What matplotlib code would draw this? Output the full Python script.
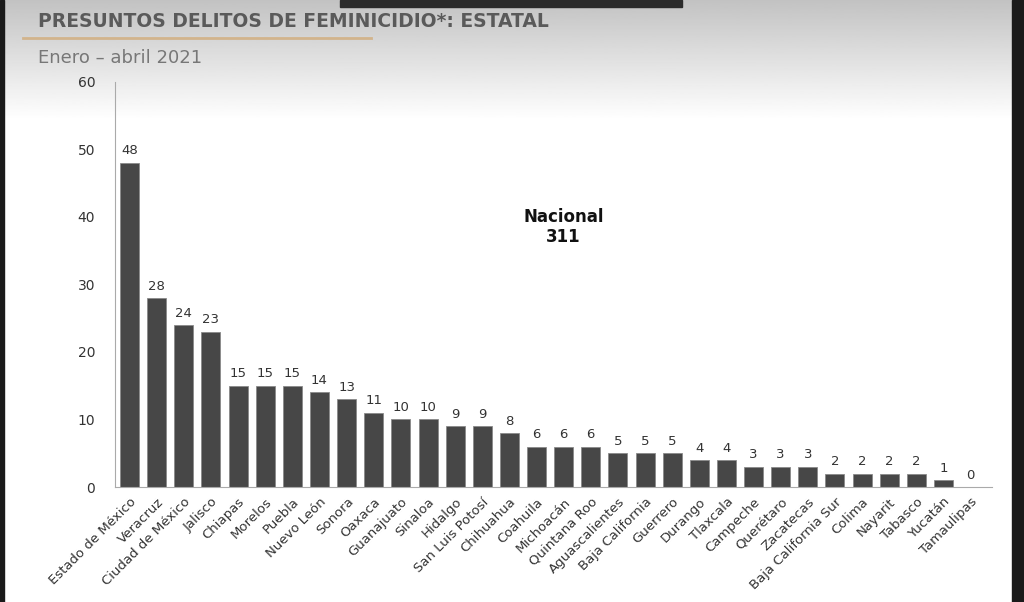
import matplotlib.pyplot as plt
import numpy as np
from matplotlib.patches import Rectangle

estados = ['Estado de México', 'Veracruz', 'Ciudad de México', 'Jalisco', 'Chiapas', 'Morelos',
           'Puebla', 'Nuevo León', 'Sonora', 'Oaxaca', 'Guanajuato', 'Sinaloa', 'Hidalgo',
           'San Luis Potosí', 'Chihuahua', 'Coahuila', 'Michoacán', 'Quintana Roo',
           'Aguascalientes', 'Baja California', 'Guerrero', 'Durango', 'Tlaxcala', 'Campeche',
           'Querétaro', 'Zacatecas', 'Baja California Sur', 'Colima', 'Nayarit', 'Tabasco',
           'Yucatán', 'Tamaulipas']
delitos = [48, 28, 24, 23, 15, 15, 15, 14, 13, 11, 10, 10, 9, 9, 8, 6, 6, 6, 5, 5, 5,
           4, 4, 3, 3, 3, 2, 2, 2, 2, 1, 0]
yticks = [0, 10, 20, 30, 40, 50, 60]

fig = plt.figure(figsize=(10.24, 6.02), dpi=100)

# screenshot background: soft grey gradient at the top, dark frame bits
grad = np.linspace(1.0, 0.76, 100).reshape(-1, 1)
bg = fig.add_axes([0, 0.80, 1, 0.20], zorder=-5)
bg.imshow(grad, cmap='gray', vmin=0, vmax=1, aspect='auto', extent=[0, 1, 0, 1], origin='lower')
bg.axis('off')
fig.patches.append(Rectangle((0.988, 0), 0.012, 1, transform=fig.transFigure, color='#1a1a1a', zorder=10))
fig.patches.append(Rectangle((0, 0), 0.004, 1, transform=fig.transFigure, color='#1a1a1a', zorder=10))
fig.patches.append(Rectangle((0.332, 0.988), 0.334, 0.012, transform=fig.transFigure, color='#2b2b2b', zorder=10))

fig.text(0.037, 0.965, 'PRESUNTOS DELITOS DE FEMINICIDIO*: ESTATAL', fontsize=13.5, fontweight='bold',
         color='#5a5a5a', va='center')
fig.lines.append(plt.Line2D([0.022, 0.362], [0.937, 0.937], transform=fig.transFigure, color='#d2b48c', lw=2))
fig.text(0.037, 0.903, 'Enero – abril 2021', fontsize=13, color='#777777', va='center')

ax = fig.add_axes([0.112, 0.191, 0.857, 0.673])
ax.set_facecolor('none')
x = np.arange(len(estados))
ax.bar(x, delitos, width=0.7, color='#474747', edgecolor='#8a8a8a', linewidth=0.6)
for xi, v in zip(x, delitos):
    ax.text(xi, v + 0.8, str(v), ha='center', va='bottom', fontsize=9.5, color='#333333')
ax.set_xlim(-0.55, len(estados) - 0.2)
ax.set_ylim(0, 60)
ax.set_yticks(yticks)
ax.tick_params(axis='y', length=0, labelsize=10, colors='#333333', pad=14)
ax.set_xticks(x)
ax.set_xticklabels(estados, rotation=45, ha='right', rotation_mode='anchor', fontsize=9.5, color='#333333')
ax.tick_params(axis='x', length=0, pad=6)
for s in ['top', 'right']:
    ax.spines[s].set_visible(False)
ax.spines['left'].set_color('#aaaaaa')
ax.spines['bottom'].set_color('#aaaaaa')
ax.text(16, 38.5, 'Nacional\n311', ha='center', va='center', fontsize=12, fontweight='bold', color='#111111')

fig.savefig('out.png', dpi=100)
